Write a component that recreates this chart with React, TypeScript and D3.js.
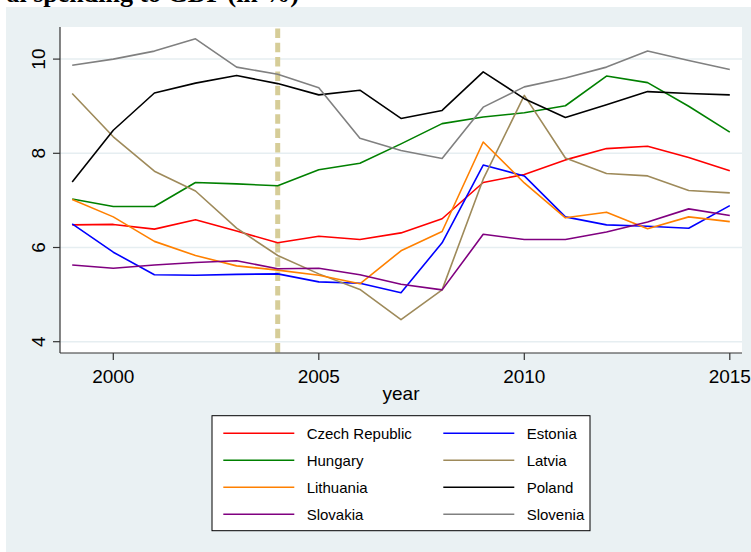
import React from "react";
import * as d3 from "d3";

// years on the x axis
const years = [1999, 2000, 2001, 2002, 2003, 2004, 2005, 2006, 2007, 2008, 2009, 2010, 2011, 2012, 2013, 2014, 2015];

// spending to GDP (in %)
const czech = [6.48, 6.49, 6.39, 6.59, 6.35, 6.1, 6.24, 6.17, 6.31, 6.61, 7.38, 7.55, 7.86, 8.1, 8.15, 7.91, 7.63];
const estonia = [6.5, 5.9, 5.42, 5.41, 5.43, 5.44, 5.27, 5.24, 5.04, 6.1, 7.75, 7.52, 6.65, 6.48, 6.45, 6.41, 6.89];
const hungary = [7.03, 6.87, 6.87, 7.38, 7.35, 7.31, 7.65, 7.79, 8.2, 8.63, 8.77, 8.86, 9.01, 9.64, 9.5, 9.0, 8.45];
const latvia = [9.27, 8.35, 7.62, 7.2, 6.41, 5.83, 5.44, 5.11, 4.47, 5.1, 7.45, 9.23, 7.9, 7.57, 7.52, 7.21, 7.16];
const lithuania = [7.02, 6.65, 6.13, 5.83, 5.61, 5.52, 5.41, 5.23, 5.93, 6.34, 8.24, 7.37, 6.63, 6.75, 6.4, 6.65, 6.55];
const poland = [7.39, 8.49, 9.28, 9.49, 9.65, 9.48, 9.24, 9.34, 8.74, 8.91, 9.73, 9.16, 8.76, 9.03, 9.31, 9.27, 9.24];
const slovakia = [5.63, 5.56, 5.63, 5.68, 5.72, 5.55, 5.56, 5.42, 5.22, 5.1, 6.28, 6.17, 6.17, 6.33, 6.54, 6.82, 6.68];
const slovenia = [9.87, 10.0, 10.17, 10.43, 9.83, 9.68, 9.39, 8.32, 8.06, 7.89, 8.98, 9.41, 9.6, 9.83, 10.17, 9.97, 9.78];

const countries = ["Czech Republic", "Estonia", "Hungary", "Latvia", "Lithuania", "Poland", "Slovakia", "Slovenia"];
const values = [czech, estonia, hungary, latvia, lithuania, poland, slovakia, slovenia];
const colors = ["#ff0000", "#0000ff", "#008000", "#9e8a5a", "#ff8000", "#000000", "#800080", "#808080"];

const xTicks = [2000, 2005, 2010, 2015];
const yTicks = [4, 6, 8, 10];
const markerYear = 2004;

const W = 751,
  H = 552;
// plot region
const plot = { left: 60, right: 742, top: 27, bottom: 353 };

export default function App() {
  const x = d3.scaleLinear().domain([2000, 2015]).range([113.3, 729.8]);
  const y = d3.scaleLinear().domain([4, 10]).range([341.7, 59.1]);

  const line = d3
    .line<number>()
    .x((d, i) => x(years[i]))
    .y((d) => y(d));

  const font = "'Liberation Sans', Arial, sans-serif";

  // legend layout
  const lg = { x: 212, y: 415.7, w: 378, h: 115, row0: 433.3, rowGap: 27 };

  return (
    <svg width={W} height={H} style={{ position: "absolute", left: 0, top: 0 }} fontFamily={font}>
      <rect x={0} y={0} width={W} height={H} fill="#ffffff" />
      <rect x={6} y={7} width={W - 6} height={H - 7} fill="#eaf1f3" />

      {/* title, cut at the top of the picture like in the source */}
      <text x={299} y={2} textAnchor="end" fontFamily="'Liberation Serif', 'Times New Roman', serif" fontWeight="bold" fontSize={26}>
        al spending to GDP (in %)
      </text>

      {/* plot area */}
      <rect x={plot.left} y={plot.top} width={plot.right - plot.left} height={plot.bottom - plot.top} fill="#ffffff" />

      {/* grid */}
      {yTicks.map((t) => (
        <line key={"g" + t} x1={plot.left} x2={plot.right} y1={y(t)} y2={y(t)} stroke="#e6eef1" strokeWidth={1.5} />
      ))}

      {/* marker line */}
      <line
        x1={x(markerYear)}
        x2={x(markerYear)}
        y1={plot.top + 1.5}
        y2={plot.bottom}
        stroke="#d6cd98"
        strokeWidth={5}
        strokeDasharray="9.5 4.8"
      />

      {/* series */}
      {values.map((v, i) => (
        <path key={countries[i]} d={line(v) || ""} fill="none" stroke={colors[i]} strokeWidth={1.6} strokeLinejoin="round" />
      ))}

      {/* y axis */}
      <line x1={plot.left} x2={plot.left} y1={plot.top} y2={plot.bottom} stroke="#333" strokeWidth={1.2} />
      {yTicks.map((t) => (
        <g key={"y" + t}>
          <line x1={plot.left - 7} x2={plot.left} y1={y(t)} y2={y(t)} stroke="#333" strokeWidth={1.2} />
          <text transform={`translate(45, ${y(t)}) rotate(-90)`} textAnchor="middle" fontSize={19} fill="#000">
            {t}
          </text>
        </g>
      ))}

      {/* x axis */}
      <line x1={plot.left} x2={plot.right} y1={plot.bottom} y2={plot.bottom} stroke="#333" strokeWidth={1.2} />
      {xTicks.map((t) => (
        <g key={"x" + t}>
          <line x1={x(t)} x2={x(t)} y1={plot.bottom} y2={plot.bottom + 7} stroke="#333" strokeWidth={1.2} />
          <text x={x(t)} y={383} textAnchor="middle" fontSize={19} fill="#000">
            {t}
          </text>
        </g>
      ))}
      <text x={(plot.left + plot.right) / 2} y={400} textAnchor="middle" fontSize={19} fill="#000">
        year
      </text>

      {/* legend */}
      <rect x={lg.x} y={lg.y} width={lg.w} height={lg.h} fill="#ffffff" stroke="#000" strokeWidth={1} />
      {countries.map((c, i) => {
        const col = i % 2;
        const row = Math.floor(i / 2);
        const cy = lg.row0 + row * lg.rowGap;
        const lx = col === 0 ? 223.3 : 443.3;
        return (
          <g key={"l" + c}>
            <line x1={lx} x2={lx + 71} y1={cy} y2={cy} stroke={colors[i]} strokeWidth={1.5} />
            <text x={lx + 83.4} y={cy + 5.4} fontSize={15} fill="#000">
              {c}
            </text>
          </g>
        );
      })}
    </svg>
  );
}
